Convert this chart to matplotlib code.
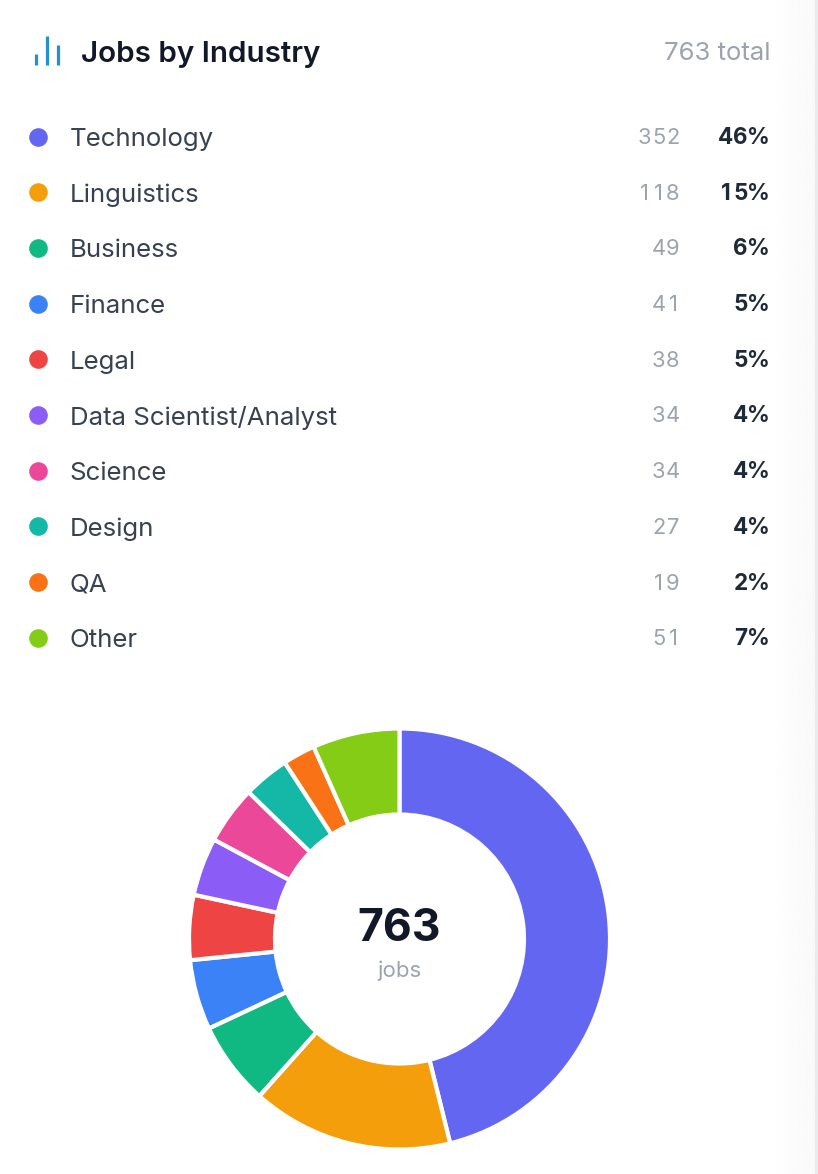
import matplotlib
matplotlib.use("Agg")
import matplotlib.pyplot as plt
import numpy as np

industries = ["Technology", "Linguistics", "Business", "Finance", "Legal",
              "Data Scientist/Analyst", "Science", "Design", "QA", "Other"]
counts = [352, 118, 49, 41, 38, 34, 34, 27, 19, 51]
percents = ["46%", "15%", "6%", "5%", "5%", "4%", "4%", "4%", "2%", "7%"]
colors = ["#6366F1", "#F59E0B", "#10B981", "#3B82F6", "#EF4444",
          "#8B5CF6", "#EC4899", "#14B8A6", "#F97316", "#84CC16"]
title = "Jobs by Industry"
total_label = "763 total"
center_value = "763"
center_label = "jobs"

W, H = 818, 1174
plt.rcParams['font.family'] = ['Inter', 'DejaVu Sans']
fig = plt.figure(figsize=(W / 100, H / 100), dpi=100, facecolor="white")

bg = fig.add_axes([0, 0, 1, 1])
bg.axis("off")

# right edge shading of the card
grad = np.linspace(1.0, 0.975, 64).reshape(1, -1)
bg.imshow(grad, extent=(770, 815, H, 0), cmap="gray", vmin=0, vmax=1, aspect="auto", zorder=0)
bg.fill_between([815, 818], 0, H, color="#EBEBED", lw=0, zorder=0)
bg.set_xlim(0, W)
bg.set_ylim(H, 0)

# header icon
for x, top, bottom in [(36, 54, 65), (47, 36, 65), (58, 44.5, 65)]:
    bg.plot([x, x], [top, bottom], color="#2490CE", lw=2.3, solid_capstyle="butt")

bg.text(81, 54.5, title, fontsize=21.3, fontweight="semibold", color="#111827", va="center", ha="left")
bg.text(770, 53, total_label, fontsize=18.5, color="#9CA3AF", va="center", ha="right")


def tabular(x_right, y, chars, advance, **kw):
    """Right-aligned digits at a fixed advance, as tabular figures."""
    for j, ch in enumerate(reversed(chars)):
        bg.text(x_right - advance * (j + 0.5), y, ch, va="center", ha="center", **kw)


row_y0, row_step = 137, 55.7
for i, (name, n, p, c) in enumerate(zip(industries, counts, percents, colors)):
    y = row_y0 + i * row_step
    bg.scatter([37.5], [y - 0.5], s=180, color=c, linewidths=0, zorder=3)
    bg.text(69.5, y + 2.5, name, fontsize=18.6, color="#374151", va="center", ha="left")
    tabular(680, y + 1, str(n), 14.2, fontsize=15.8, color="#9CA3AF")
    pct_kw = dict(fontsize=16.2, fontweight="bold", color="#1F2937")
    bg.text(770, y + 1, p[-1], va="center", ha="right", **pct_kw)
    tabular(748, y + 1, p[:-1], 15.0, **pct_kw)

# donut
cx, cy, R = 399.5, 939, 210.5
ax = fig.add_axes([(cx - R) / W, 1 - (cy + R) / H, 2 * R / W, 2 * R / H])
ax.pie(counts, colors=colors, startangle=90, counterclock=False, radius=1,
       wedgeprops=dict(width=86 / 210.5, edgecolor="white", linewidth=3))
ax.set_xlim(-1, 1)
ax.set_ylim(-1, 1)
ax.set_aspect("equal")
ax.patch.set_alpha(0)

bg.text(399, 929, center_value, fontsize=32, fontweight="bold", color="#111827", va="center", ha="center", zorder=5)
bg.text(399.5, 971, center_label, fontsize=16, color="#9CA3AF", va="center", ha="center", zorder=5)

fig.savefig("out.png", dpi=100)
